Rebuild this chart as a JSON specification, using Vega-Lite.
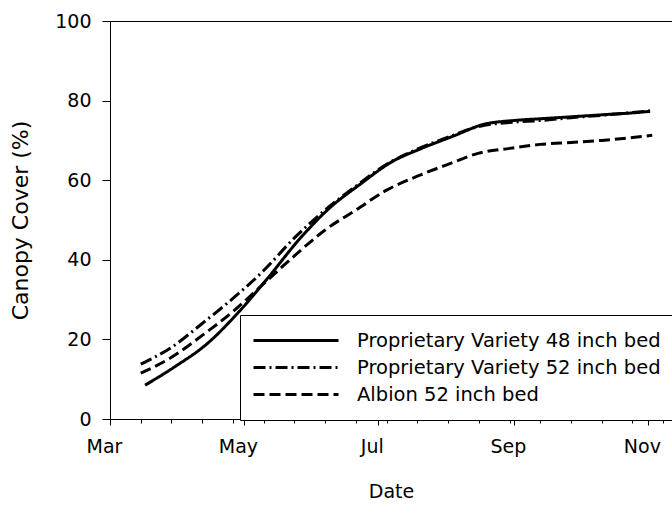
{
  "$schema": "https://vega.github.io/schema/vega-lite/v6.json",
  "description": "Canopy cover over the season for three strawberry plantings.",
  "width": 562,
  "height": 398,
  "autosize": "none",
  "padding": {"left": 110, "top": 21, "right": 0, "bottom": 89},
  "background": "white",
  "config": {
    "font": "DejaVu Sans",
    "view": {"stroke": "black", "strokeWidth": 1},
    "axis": {
      "grid": false,
      "domainColor": "black",
      "tickColor": "black",
      "labelColor": "black",
      "titleColor": "black",
      "labelFont": "DejaVu Sans",
      "titleFont": "DejaVu Sans",
      "labelFontSize": 19,
      "titleFontSize": 19,
      "titleFontWeight": "normal"
    },
    "legend": {
      "labelFont": "DejaVu Sans",
      "labelFontSize": 19.5,
      "labelColor": "black"
    }
  },
  "data": {
    "values": [
      {"date": "2014-03-17", "cover": 8.5, "series": "Proprietary Variety 48 inch bed"},
      {"date": "2014-03-31", "cover": 13.3, "series": "Proprietary Variety 48 inch bed"},
      {"date": "2014-04-14", "cover": 18.8, "series": "Proprietary Variety 48 inch bed"},
      {"date": "2014-04-28", "cover": 26.5, "series": "Proprietary Variety 48 inch bed"},
      {"date": "2014-05-12", "cover": 35.5, "series": "Proprietary Variety 48 inch bed"},
      {"date": "2014-05-26", "cover": 45, "series": "Proprietary Variety 48 inch bed"},
      {"date": "2014-06-09", "cover": 53, "series": "Proprietary Variety 48 inch bed"},
      {"date": "2014-06-23", "cover": 59, "series": "Proprietary Variety 48 inch bed"},
      {"date": "2014-07-07", "cover": 64.5, "series": "Proprietary Variety 48 inch bed"},
      {"date": "2014-07-21", "cover": 68, "series": "Proprietary Variety 48 inch bed"},
      {"date": "2014-08-04", "cover": 71, "series": "Proprietary Variety 48 inch bed"},
      {"date": "2014-08-18", "cover": 74, "series": "Proprietary Variety 48 inch bed"},
      {"date": "2014-09-01", "cover": 75, "series": "Proprietary Variety 48 inch bed"},
      {"date": "2014-09-15", "cover": 75.5, "series": "Proprietary Variety 48 inch bed"},
      {"date": "2014-09-29", "cover": 76, "series": "Proprietary Variety 48 inch bed"},
      {"date": "2014-10-13", "cover": 76.5, "series": "Proprietary Variety 48 inch bed"},
      {"date": "2014-10-27", "cover": 77, "series": "Proprietary Variety 48 inch bed"},
      {"date": "2014-11-02", "cover": 77.3, "series": "Proprietary Variety 48 inch bed"},
      {"date": "2014-03-15", "cover": 13.8, "series": "Proprietary Variety 52 inch bed"},
      {"date": "2014-03-29", "cover": 18, "series": "Proprietary Variety 52 inch bed"},
      {"date": "2014-04-12", "cover": 24, "series": "Proprietary Variety 52 inch bed"},
      {"date": "2014-04-26", "cover": 30.3, "series": "Proprietary Variety 52 inch bed"},
      {"date": "2014-05-10", "cover": 37.3, "series": "Proprietary Variety 52 inch bed"},
      {"date": "2014-05-24", "cover": 45.5, "series": "Proprietary Variety 52 inch bed"},
      {"date": "2014-06-07", "cover": 52.5, "series": "Proprietary Variety 52 inch bed"},
      {"date": "2014-06-21", "cover": 58.5, "series": "Proprietary Variety 52 inch bed"},
      {"date": "2014-07-05", "cover": 64, "series": "Proprietary Variety 52 inch bed"},
      {"date": "2014-07-19", "cover": 67.8, "series": "Proprietary Variety 52 inch bed"},
      {"date": "2014-08-02", "cover": 70.8, "series": "Proprietary Variety 52 inch bed"},
      {"date": "2014-08-16", "cover": 73.5, "series": "Proprietary Variety 52 inch bed"},
      {"date": "2014-08-30", "cover": 74.5, "series": "Proprietary Variety 52 inch bed"},
      {"date": "2014-09-13", "cover": 75, "series": "Proprietary Variety 52 inch bed"},
      {"date": "2014-09-27", "cover": 75.7, "series": "Proprietary Variety 52 inch bed"},
      {"date": "2014-10-11", "cover": 76.3, "series": "Proprietary Variety 52 inch bed"},
      {"date": "2014-10-25", "cover": 77, "series": "Proprietary Variety 52 inch bed"},
      {"date": "2014-11-03", "cover": 77.5, "series": "Proprietary Variety 52 inch bed"},
      {"date": "2014-03-15", "cover": 11.5, "series": "Albion 52 inch bed"},
      {"date": "2014-03-29", "cover": 15.5, "series": "Albion 52 inch bed"},
      {"date": "2014-04-12", "cover": 21, "series": "Albion 52 inch bed"},
      {"date": "2014-04-26", "cover": 27, "series": "Albion 52 inch bed"},
      {"date": "2014-05-10", "cover": 34, "series": "Albion 52 inch bed"},
      {"date": "2014-05-24", "cover": 41, "series": "Albion 52 inch bed"},
      {"date": "2014-06-07", "cover": 47.5, "series": "Albion 52 inch bed"},
      {"date": "2014-06-21", "cover": 52.5, "series": "Albion 52 inch bed"},
      {"date": "2014-07-05", "cover": 57.5, "series": "Albion 52 inch bed"},
      {"date": "2014-07-19", "cover": 61, "series": "Albion 52 inch bed"},
      {"date": "2014-08-02", "cover": 64, "series": "Albion 52 inch bed"},
      {"date": "2014-08-16", "cover": 66.8, "series": "Albion 52 inch bed"},
      {"date": "2014-08-30", "cover": 68, "series": "Albion 52 inch bed"},
      {"date": "2014-09-13", "cover": 69, "series": "Albion 52 inch bed"},
      {"date": "2014-09-27", "cover": 69.5, "series": "Albion 52 inch bed"},
      {"date": "2014-10-11", "cover": 70, "series": "Albion 52 inch bed"},
      {"date": "2014-10-25", "cover": 70.7, "series": "Albion 52 inch bed"},
      {"date": "2014-11-03", "cover": 71.3, "series": "Albion 52 inch bed"}
    ]
  },
  "mark": {"type": "line", "interpolate": "monotone", "strokeWidth": 3, "color": "black"},
  "encoding": {
    "x": {
      "field": "date",
      "type": "temporal",
      "scale": {
        "type": "utc",
        "domain": [
          {"year": 2014, "month": 3, "date": 1, "utc": true},
          {"year": 2014, "month": 11, "date": 12, "utc": true}
        ]
      },
      "axis": {
        "title": "Date",
        "values": [
          {"year": 2014, "month": 3, "date": 1, "utc": true},
          {"year": 2014, "month": 3, "date": 15, "utc": true},
          {"year": 2014, "month": 3, "date": 29, "utc": true},
          {"year": 2014, "month": 4, "date": 12, "utc": true},
          {"year": 2014, "month": 4, "date": 26, "utc": true},
          {"year": 2014, "month": 5, "date": 1, "utc": true},
          {"year": 2014, "month": 5, "date": 10, "utc": true},
          {"year": 2014, "month": 5, "date": 24, "utc": true},
          {"year": 2014, "month": 6, "date": 7, "utc": true},
          {"year": 2014, "month": 6, "date": 21, "utc": true},
          {"year": 2014, "month": 7, "date": 1, "utc": true},
          {"year": 2014, "month": 7, "date": 5, "utc": true},
          {"year": 2014, "month": 7, "date": 19, "utc": true},
          {"year": 2014, "month": 8, "date": 2, "utc": true},
          {"year": 2014, "month": 8, "date": 16, "utc": true},
          {"year": 2014, "month": 8, "date": 30, "utc": true},
          {"year": 2014, "month": 9, "date": 1, "utc": true},
          {"year": 2014, "month": 9, "date": 13, "utc": true},
          {"year": 2014, "month": 9, "date": 27, "utc": true},
          {"year": 2014, "month": 10, "date": 11, "utc": true},
          {"year": 2014, "month": 10, "date": 25, "utc": true},
          {"year": 2014, "month": 11, "date": 1, "utc": true},
          {"year": 2014, "month": 11, "date": 8, "utc": true}
        ],
        "labelExpr": "utcdate(datum.value) == 1 ? utcFormat(datum.value, '%b') : ''",
        "labelOverlap": false,
        "labelFlush": false,
        "tickSize": {"condition": {"test": "utcdate(datum.value) == 1", "value": 6}, "value": 4},
        "labelPadding": 12,
        "labelOffset": -6,
        "titlePadding": 26
      }
    },
    "y": {
      "field": "cover",
      "type": "quantitative",
      "scale": {"domain": [0, 100], "nice": false},
      "axis": {
        "title": "Canopy Cover (%)",
        "values": [0, 20, 40, 60, 80, 100],
        "tickSize": 8,
        "labelPadding": 11,
        "titlePadding": 22,
        "titleFontSize": 22
      }
    },
    "strokeDash": {
      "field": "series",
      "type": "nominal",
      "scale": {
        "domain": ["Proprietary Variety 48 inch bed", "Proprietary Variety 52 inch bed", "Albion 52 inch bed"],
        "range": [[1, 0], [12, 4, 2, 4], [11, 5]]
      },
      "legend": {
        "title": null,
        "orient": "none",
        "legendX": 130,
        "legendY": 294,
        "symbolType": "stroke",
        "symbolSize": 7225,
        "symbolStrokeWidth": 3,
        "symbolStrokeColor": "black",
        "labelOffset": 17,
        "labelLimit": 400,
        "padding": 12,
        "clipHeight": 27,
        "rowPadding": 0,
        "fillColor": "white",
        "strokeColor": "black"
      }
    }
  }
}
